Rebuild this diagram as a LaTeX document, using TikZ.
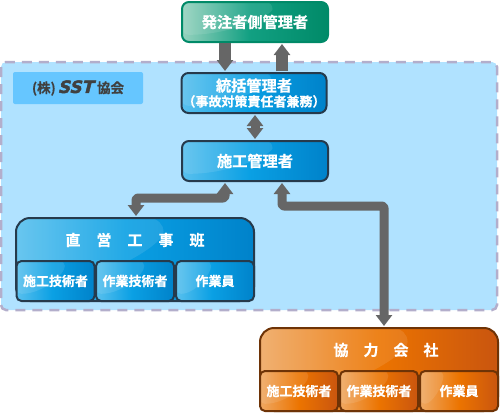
\documentclass[tikz,border=0pt]{standalone}
\usepackage{fontspec}
\setmainfont{Noto Sans CJK JP}[BoldFont={Noto Sans CJK JP Bold},BoldFeatures={FakeBold=0.6}]
\newfontfamily\logofont[FakeBold=2.5,FakeSlant=0.25]{DejaVu Sans Bold}
\usetikzlibrary{arrows.meta,calc}
\definecolor{areafill}{HTML}{B0E2FF}
\definecolor{areadash}{HTML}{B3AECB}
\definecolor{logofill}{HTML}{66C6FF}
\definecolor{arrowgray}{HTML}{666666}
\definecolor{blueedge}{HTML}{263A4C}
\definecolor{blue1}{HTML}{58C0EE}
\definecolor{blue2}{HTML}{0AA0E4}
\definecolor{blue3}{HTML}{0082CA}
\definecolor{green1}{HTML}{96D2BE}
\definecolor{green2}{HTML}{12A082}
\definecolor{green3}{HTML}{008A68}
\definecolor{orange1}{HTML}{EFA862}
\definecolor{orange2}{HTML}{EC7400}
\definecolor{orange3}{HTML}{C9550F}
\definecolor{orangeedge}{HTML}{6E3306}
\pgfdeclarehorizontalshading{blueshade}{100bp}{color(0bp)=(blue1);color(25bp)=(blue1);color(48bp)=(blue2);color(75bp)=(blue3);color(100bp)=(blue3)}
\pgfdeclarehorizontalshading{greenshade}{100bp}{color(0bp)=(green1);color(25bp)=(green1);color(48bp)=(green2);color(75bp)=(green3);color(100bp)=(green3)}
\pgfdeclarehorizontalshading{orangeshade}{100bp}{color(0bp)=(orange1);color(25bp)=(orange1);color(50bp)=(orange2);color(75bp)=(orange3);color(100bp)=(orange3)}
\tikzset{
  gloss/.style={path picture={
    \coordinate (nw) at (path picture bounding box.north west);
    \coordinate (ne) at (path picture bounding box.north east);
    \coordinate (sw) at (path picture bounding box.south west);
    \coordinate (gs) at ($(nw)!#1!(ne)$);
    \coordinate (ge) at ($(nw)!.82!(sw)$);
    \fill[white,fill opacity=.1] (nw) -- (gs) .. controls ($(gs)!.4!(gs|-ge)$) and ($(ge)!.55!(gs|-ge)$) .. (ge) -- cycle;
  }},
  gloss/.default=.62,
  box/.style={draw,line width=2pt,inner sep=0pt,text=white,font=\bfseries,align=center,gloss},
  bluebox/.style={box,draw=blueedge,shading=blueshade},
  greenbox/.style={box,draw=green3,shading=greenshade},
  orangebox/.style={box,draw=orangeedge,shading=orangeshade},
  mainbox/.style={minimum width=146pt,minimum height=40pt,rounded corners=7pt,font=\bfseries\fontsize{15.2}{17}\selectfont},
  teambox/.style={minimum width=238pt,minimum height=83pt,rounded corners=14pt,text depth=0pt},
  subbox/.style={minimum width=78pt,minimum height=40pt,rounded corners=5pt,font=\bfseries\fontsize{13}{15}\selectfont},
  titletext/.style={font=\bfseries\fontsize{15}{17}\selectfont,text=white,inner sep=0pt},
  linkarrow/.style={draw=arrowgray,line width=#1,line join=round,rounded corners=2pt},
  linkarrow/.default=9pt,
  onetip/.style={-{Triangle[width=16pt,length=11pt]}},
  twotips/.style={{Triangle[width=16pt,length=11pt]}-{Triangle[width=16pt,length=11pt]}},
}
\begin{document}
\begin{tikzpicture}[x=1pt,y=-1pt]
\useasboundingbox (0,0) rectangle (500,413);
% area
\path[fill=areafill,rounded corners=5pt] (1,62) rectangle (497,310);
\draw[areadash,line width=2.5pt,dash pattern=on 10pt off 7pt,rounded corners=5pt] (1,62) rectangle (497,310);
\node[fill=logofill,rounded corners=2pt,minimum width=130pt,minimum height=32pt,inner sep=0pt,text=black!75] (logo) at (78,88)
  {\bfseries\fontsize{13.5}{14}\selectfont (株)\hspace{2pt}{\logofont\fontsize{17}{19}\selectfont SST}\hspace{4pt}協会};
% boxes
\node[greenbox,mainbox] (owner) at (255,22) {発注者側管理者};
\node[bluebox,mainbox,minimum width=145pt] (chief) at (254,93) {統括管理者\\[-2pt]{\fontsize{13}{14}\selectfont （事故対策責任者兼務）}};
\node[bluebox,mainbox] (mgr) at (255,161) {施工管理者};
\node[bluebox,teambox] (direct) at (135,259.5) {};
\node[titletext] (directt) at (135,240) {\spaceskip=16pt\relax 直 営 工 事 班};
\node[bluebox,subbox] (d1) at (55.5,281) {施工技術者};
\node[bluebox,subbox] (d2) at (135,281) {作業技術者};
\node[bluebox,subbox,gloss=.45] (d3) at (215,281) {作業員};
\node[orangebox,teambox] (partner) at (379,369.5) {};
\node[titletext] (partnert) at (386,350) {\spaceskip=15pt\relax 協 力 会 社};
\node[orangebox,subbox] (p1) at (299,391) {施工技術者};
\node[orangebox,subbox] (p2) at (379,391) {作業技術者};
\node[orangebox,subbox,gloss=.3] (p3) at (459,391) {作業員};
% connector guides
\coordinate (xa) at (225,0);
\coordinate (xb) at (282,0);
\coordinate (xc) at (255,0);
\coordinate (xd) at (136,0);
\coordinate (xe) at (384,0);
\coordinate (ya) at (0,198);
\coordinate (yb) at (0,206);
% connectors
\draw[linkarrow=12pt,onetip] (owner.south -| xa) -- ([yshift=1pt]chief.north -| xa);
\draw[linkarrow=12pt,onetip] ([yshift=1pt]chief.north -| xb) -- ([yshift=-1pt]owner.south -| xb);
\draw[linkarrow=9pt,twotips] ([yshift=-1pt]chief.south -| xc) -- ([yshift=1pt]mgr.north -| xc);
\draw[linkarrow=9pt,twotips] ([yshift=-1pt]mgr.south -| xa) -- (xa |- ya) -- (xd |- ya) -- ([yshift=1pt]direct.north -| xd);
\draw[linkarrow=9pt,twotips] ([yshift=-1pt]mgr.south -| xb) -- (xb |- yb) -- (xe |- yb) -- ([yshift=1pt]partner.north -| xe);
\end{tikzpicture}
\end{document}
